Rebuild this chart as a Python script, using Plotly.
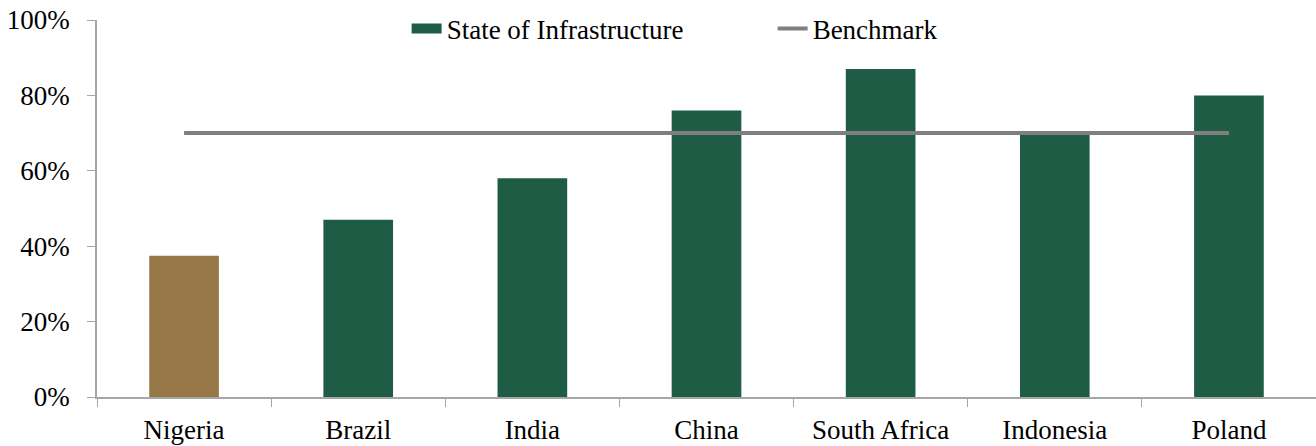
import plotly.graph_objects as go

categories = ["Nigeria", "Brazil", "India", "China", "South Africa", "Indonesia", "Poland"]
infrastructure = [37.5, 47, 58, 76, 87, 69.6, 80]
benchmark = [70, 70, 70, 70, 70, 70, 70]
bar_colors = ["#967746", "#1f5c45", "#1f5c45", "#1f5c45", "#1f5c45", "#1f5c45", "#1f5c45"]
y_ticks = [0, 20, 40, 60, 80, 100]
y_tick_labels = ["0%", "20%", "40%", "60%", "80%", "100%"]

FONT = "Liberation Serif"
GREEN = "#1f5c45"

fig = go.Figure()
fig.add_trace(go.Bar(
    x=categories, y=infrastructure, name="State of Infrastructure",
    marker=dict(color=bar_colors, line=dict(width=0)), showlegend=False,
))
# legend-only entry for the bar series (wide green swatch)
fig.add_trace(go.Scatter(
    x=[None], y=[None], name="State of Infrastructure", mode="lines",
    line=dict(color=GREEN, width=13), showlegend=True,
))
fig.add_trace(go.Scatter(
    x=categories, y=benchmark, name="Benchmark", mode="lines",
    line=dict(color="#7f7f7f", width=4),
))

fig.update_layout(
    width=1316, height=446,
    margin=dict(l=97, r=0, t=20, b=49),
    plot_bgcolor="white", paper_bgcolor="white",
    font=dict(family=FONT, size=27, color="#000000"),
    bargap=0.6,
    showlegend=True,
    legend=dict(
        orientation="h", x=0.254, xanchor="left", y=0.976, yanchor="middle",
        font=dict(family=FONT, size=27), bgcolor="rgba(0,0,0,0)",
        entrywidth=321, entrywidthmode="pixels", traceorder="normal",
    ),
    xaxis=dict(
        showline=True, linecolor="#a6a6a6", linewidth=1.5,
        ticks="outside", tickson="boundaries", ticklen=8, tickcolor="#a6a6a6",
        showgrid=False, tickfont=dict(family=FONT, size=27),
        ticklabelstandoff=8,
    ),
    yaxis=dict(
        range=[0, 100], tickvals=y_ticks, ticktext=y_tick_labels,
        showline=True, linecolor="#a6a6a6", linewidth=1.5,
        ticks="outside", ticklen=8, tickcolor="#a6a6a6",
        showgrid=False, zeroline=False, tickfont=dict(family=FONT, size=27),
        ticklabelstandoff=12,
    ),
)

fig.write_html("out.html")
